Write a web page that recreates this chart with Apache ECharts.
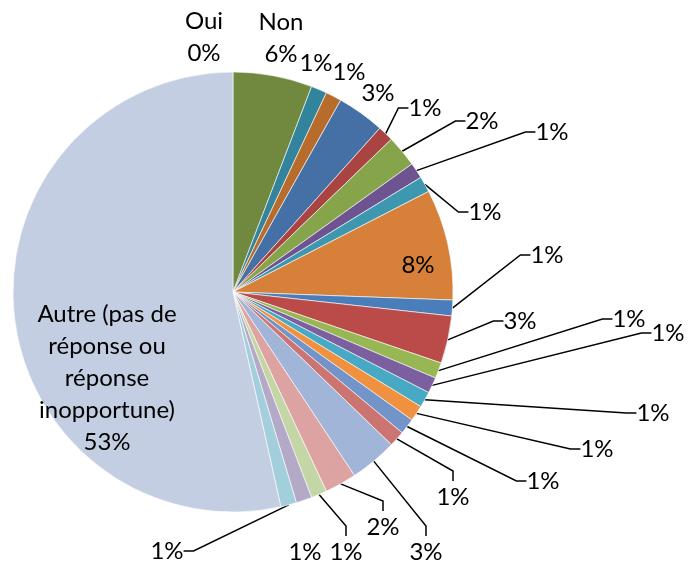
<!DOCTYPE html>
<html lang="fr">
<head>
    <meta charset="UTF-8">
    <title>Répartition des réponses</title>
    <script src="https://cdn.jsdelivr.net/npm/echarts/dist/echarts.min.js"></script>
    <style>
        body {
            margin: 0;
            background: #fff;
        }

        #main {
            width: 688px;
            height: 565px;
        }
    </style>
</head>
<body>
<div id="main"></div>
<script>
    // categories clockwise from 12 o'clock
    var categories = ['Oui', 'Non',
        'Réponse 3', 'Réponse 4', 'Réponse 5', 'Réponse 6', 'Réponse 7', 'Réponse 8', 'Réponse 9',
        'Réponse 10', 'Réponse 11', 'Réponse 12', 'Réponse 13', 'Réponse 14', 'Réponse 15',
        'Réponse 16', 'Réponse 17', 'Réponse 18', 'Réponse 19', 'Réponse 20', 'Réponse 21',
        'Réponse 22', 'Réponse 23',
        'Autre (pas de\nréponse ou\nréponse\ninopportune)'];
    var counts = [0, 5, 1, 1, 3, 1, 2, 1, 1, 7, 1, 3, 1, 1, 1, 1, 1, 1, 3, 2, 1, 1, 1, 46];

    var colors = ['#4f81bd', '#71893f', '#31849b', '#b86c2c', '#4470a6', '#a94442', '#86a44a', '#6d5490',
        '#3d97af', '#d6803a', '#4a7ebb', '#bb4b48', '#97b754', '#7c5f9e', '#47a9c3', '#f0913f',
        '#7294c9', '#cb7472', '#a1b5d8', '#dca3a2', '#c5d6a6', '#b4a9c7', '#a3cfdd', '#c4cee3'];

    // where each label sits (centre of the text)
    var labelXY = [[204, 37], [281, 38], [316, 63], [349, 72], [378, 93], [425, 108], [482, 121],
        [552, 132], [485, 212], [418, 265], [547, 255], [520, 321], [629, 319], [668, 333],
        [653, 413], [597, 449], [543, 481], [453, 497], [426, 552], [383, 527], [346, 552],
        [305, 552], [167, 551], [107, 378]];
    var noLine = [0, 1, 2, 3, 4, 9, 21, 23];

    var data = [];
    for (var i = 0; i < counts.length; i++) {
        data.push({
            name: categories[i],
            value: counts[i],
            itemStyle: {color: colors[i]},
            labelLine: {show: noLine.indexOf(i) == -1}
        });
    }

    var myChart = echarts.init(document.getElementById('main'), null, {renderer: 'canvas'});
    var option = {
        animation: false,
        series: [{
            type: 'pie',
            center: [233, 292],
            radius: 220,
            startAngle: 90,
            clockwise: true,
            avoidLabelOverlap: false,
            data: data,
            itemStyle: {
                borderColor: '#ffffff',
                borderWidth: 0.6
            },
            label: {
                show: true,
                position: 'outside',
                fontFamily: 'Lato',
                fontSize: 24,
                lineHeight: 32,
                color: '#000',
                align: 'center',
                formatter: function (p) {
                    var pct = Math.round(p.percent) + '%';
                    if (p.dataIndex <= 1 || p.dataIndex == counts.length - 1) {
                        return p.name + '\n' + pct;
                    }
                    return pct;
                }
            },
            labelLine: {
                length: 10,
                length2: 10,
                lineStyle: {color: '#000', width: 1.5}
            },
            labelLayout: function (params) {
                var p = labelXY[params.dataIndex];
                return {
                    x: p[0],
                    y: p[1],
                    align: 'center',
                    verticalAlign: 'middle'
                };
            }
        }]
    };
    myChart.setOption(option);
</script>
</body>
</html>
